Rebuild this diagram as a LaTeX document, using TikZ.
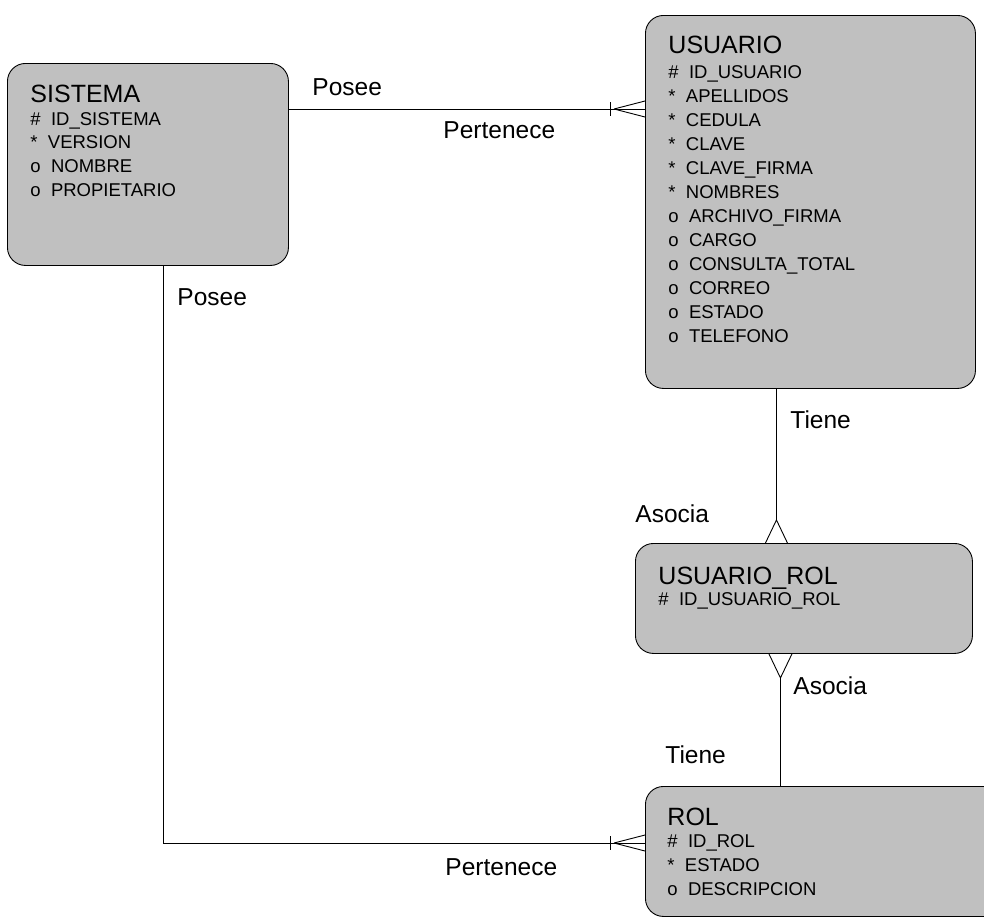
\documentclass[tikz,border=0pt]{standalone}
\usepackage{fontspec}
\setmainfont{Liberation Sans}
\usetikzlibrary{positioning,calc}
\definecolor{entgray}{RGB}{192,192,192}
\newcommand{\crowfoot}[4]{\begin{scope}[shift={(#1)},rotate=#2]
\draw (-#3,0) -- (0,#4) (-#3,0) -- (0,-#4);
\end{scope}}
\newcommand{\crowbar}[2]{\begin{scope}[shift={(#1)},rotate=#2]
\draw (-35,-7) -- (-35,7);
\end{scope}}

\begin{document}
\begin{tikzpicture}[x=1pt,y=-1pt,line width=0.9pt,
  entity/.style={draw,fill=entgray,rounded corners=18pt,anchor=north west,inner sep=0pt},
  enttitle/.style={anchor=base west,inner sep=0pt,font=\fontsize{25}{30}\selectfont},
  attr/.style={anchor=base west,inner sep=0pt,font=\fontsize{18.5}{22}\selectfont},
  rel/.style={anchor=base west,inner sep=0pt,font=\fontsize{24.5}{29}\selectfont}]
\useasboundingbox (0,0) rectangle (984,918);

\node[entity,minimum width=281,minimum height=202] (sistema) at (7,63) {};
\node[entity,minimum width=330,minimum height=373] (usuario) at (645,15) {};
\node[entity,minimum width=337,minimum height=110] (usrol) at (635,543) {};
\node[entity,minimum width=360,minimum height=130] (rol) at (645,786) {};

\node[enttitle] (sistema-t) at ($(sistema.north west)+(23,39)$) {SISTEMA};
\foreach \m/\a [count=\i from 0] in {\#/ID\_SISTEMA,*/VERSION,o/NOMBRE,o/PROPIETARIO}
  \node[attr] (sistema-\i) at ($(sistema.north west)+(23,{62+23.7*\i})$) {\m\ \ \a};

\node[enttitle] (usuario-t) at ($(usuario.north west)+(23,38)$) {USUARIO};
\foreach \m/\a [count=\i from 0] in {\#/ID\_USUARIO,*/APELLIDOS,*/CEDULA,*/CLAVE,*/CLAVE\_FIRMA,*/NOMBRES,o/ARCHIVO\_FIRMA,o/CARGO,o/CONSULTA\_TOTAL,o/CORREO,o/ESTADO,o/TELEFONO}
  \node[attr] (usuario-\i) at ($(usuario.north west)+(23,{63+24*\i})$) {\m\ \ \a};

\node[enttitle] (usrol-t) at ($(usrol.north west)+(23,41)$) {USUARIO\_ROL};
\node[attr] (usrol-0) at ($(usrol.north west)+(23,62)$) {\#\ \ ID\_USUARIO\_ROL};

\node[enttitle] (rol-t) at ($(rol.north west)+(22,39)$) {ROL};
\foreach \m/\a [count=\i from 0] in {\#/ID\_ROL,*/ESTADO,o/DESCRIPCION}
  \node[attr] (rol-\i) at ($(rol.north west)+(22,{61+24*\i})$) {\m\ \ \a};

\coordinate (p1) at ($(sistema.north east)+(0,46)$);
\draw (p1) -- (p1 -| usuario.west);
\crowfoot{p1 -| usuario.west}{0}{31}{8}
\crowbar{p1 -| usuario.west}{0}

\coordinate (p2) at ([xshift=15.5]sistema.south);
\coordinate (p3) at ($(rol.north west)+(0,57)$);
\draw (p2) -- (p2 |- p3) -- (p3);
\crowfoot{p3}{0}{31}{8}
\crowbar{p3}{0}

\coordinate (p4) at ([xshift=-34]usuario.south);
\draw (p4) -- ($(p4 |- usrol.north)+(0,-23)$);
\crowfoot{p4 |- usrol.north}{-90}{23}{11}

\coordinate (p5) at ([xshift=-23.5]usrol.south);
\draw (p5 |- rol.north) -- ($(p5)+(0,24)$);
\crowfoot{p5}{90}{24}{11.5}

\node[rel] (posee1) at (312,95) {Posee};
\node[rel] (pert1) at (443,138) {Pertenece};
\node[rel] (posee2) at (177,305) {Posee};
\node[rel] (tiene1) at (790,428) {Tiene};
\node[rel] (asocia1) at (635,522) {Asocia};
\node[rel] (asocia2) at (793,694) {Asocia};
\node[rel] (tiene2) at (665,763) {Tiene};
\node[rel] (pert2) at (445,875) {Pertenece};
\end{tikzpicture}
\end{document}
